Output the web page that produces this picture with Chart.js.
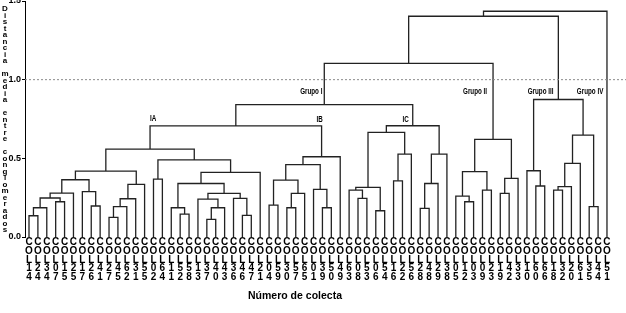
<!DOCTYPE html>
<html>
<head>
<meta charset="utf-8">
<script src="https://cdn.jsdelivr.net/npm/chart.js@4.4.1/dist/chart.umd.min.js"></script>
<style>
  html, body { margin: 0; padding: 0; background: #fff; }
  #wrap { width: 626px; height: 313px; position: relative; }
</style>
</head>
<body>
<div id="wrap"><canvas id="c" width="626" height="313"></canvas></div>
<script>
// ---------- DATA ----------
const leaves = ['COL14','COL24','COL34','COL07','COL15','COL25','COL17','COL26','COL41','COL27',
  'COL45','COL62','COL31','COL55','COL02','COL64','COL11','COL52','COL58','COL13',
  'COL37','COL40','COL43','COL36','COL46','COL47','COL21','COL04','COL59','COL30',
  'COL57','COL65','COL01','COL39','COL50','COL49','COL63','COL08','COL53','COL06',
  'COL54','COL16','COL22','COL56','COL28','COL48','COL29','COL38','COL05','COL12',
  'COL03','COL09','COL23','COL19','COL42','COL33','COL10','COL60','COL66','COL18',
  'COL32','COL20','COL61','COL35','COL44','COL51'];

// linkage: node id of merge k is leaves.length + k
const linkLeft  = [0,66,3,67,69,7,6,70,9,74,75,76,73,14,17,16,20,82,19,24,23,84,81,88,79,78,
  27,29,93,92,33,32,95,98,91,37,36,39,102,41,105,104,44,108,109,107,100,49,48,51,114,53,117,116,112,
  57,56,59,123,124,63,125,122,120,129];
const linkRight = [1,2,4,68,5,8,71,72,10,11,12,13,77,15,18,80,21,22,83,25,85,86,87,26,89,90,
  28,30,31,94,34,96,97,35,99,38,101,40,103,42,43,106,45,46,47,110,111,50,113,52,115,54,55,118,119,
  58,121,60,61,62,64,126,127,128,65];
const linkHeight = [0.135,0.186,0.224,0.248,0.279,0.197,0.288,0.364,0.125,0.193,0.243,0.334,0.419,
  0.368,0.146,0.186,0.112,0.186,0.241,0.138,0.246,0.277,0.340,0.411,0.490,0.559,
  0.203,0.186,0.277,0.362,0.186,0.303,0.460,0.510,0.706,
  0.246,0.298,0.167,0.315,0.357,0.527,0.665,0.182,0.340,0.527,0.707,0.842,
  0.224,0.260,0.298,0.415,0.277,0.373,0.620,1.103,
  0.324,0.421,0.298,0.320,0.468,0.193,0.648,0.874,1.403,1.435];

const yTicks = [0.0, 0.5, 1.0, 1.5];
const cutHeight = 1.0;
const groupNames = ['Grupo I','Grupo II','Grupo III','Grupo IV','IA','IB','IC'];
const groupNodes = [112, 119, 122, 127, 91, 99, 111];
const yTitle = 'Distancia media entre conglomerados';
const xTitle = 'Número de colecta';

// ---------- STYLE ----------
const xMin = -0.45, xMax = 67.14;
const lineColor = '#222';
const narrow = "'Liberation Sans Narrow', 'Liberation Sans', Arial, sans-serif";
const groupLabelStyle = [
  {dx: -13, dy: 91}, {dx: -18, dy: 91}, {dx: 7, dy: 91}, {dx: 7, dy: 91},
  {dx: 3, dy: 118}, {dx: -2, dy: 119}, {dx: -7, dy: 119}
];

// ---------- BUILD TREE ----------
const nodeX = leaves.map((_, i) => i);
const nodeH = leaves.map(() => 0);
linkLeft.forEach((l, k) => {
  const r = linkRight[k];
  nodeX.push((nodeX[l] + nodeX[r]) / 2);
  nodeH.push(linkHeight[k]);
});

const datasets = linkLeft.map((l, k) => {
  const r = linkRight[k], h = linkHeight[k];
  return {
    data: [
      {x: nodeX[l], y: nodeH[l]}, {x: nodeX[l], y: h},
      {x: nodeX[r], y: h}, {x: nodeX[r], y: nodeH[r]}
    ],
    showLine: true, borderColor: lineColor, borderWidth: 1.3,
    pointRadius: 0, tension: 0, fill: false
  };
});
datasets.unshift({
  data: [{x: xMin, y: cutHeight}, {x: xMax, y: cutHeight}],
  showLine: true, borderColor: '#8a8a8a', borderWidth: 1, borderDash: [2, 2],
  pointRadius: 0, fill: false
});

const textPlugin = {
  id: 'texts',
  afterDraw(chart) {
    const ctx = chart.ctx;
    const xs = chart.scales.x;
    ctx.save();
    ctx.fillStyle = '#000';
    // y title, stacked letters
    ctx.font = "bold 8px 'Liberation Sans', Arial, sans-serif";
    ctx.textAlign = 'center';
    ctx.textBaseline = 'middle';
    yTitle.split('').forEach((ch, i) => { if (ch !== ' ') ctx.fillText(ch, 5, 9 + i * 6.5); });
    // x title
    ctx.font = "bold 10.5px 'Liberation Sans', Arial, sans-serif";
    ctx.fillText(xTitle, 295, 296);
    // group labels
    groupNames.forEach((name, i) => {
      const px = xs.getPixelForValue(nodeX[groupNodes[i]]) + groupLabelStyle[i].dx;
      const py = groupLabelStyle[i].dy;
      ctx.save();
      ctx.translate(px, py);
      ctx.scale(0.66, 1);
      ctx.font = "bold 9.5px 'Liberation Sans', Arial, sans-serif";
      ctx.textAlign = 'center';
      ctx.textBaseline = 'middle';
      ctx.fillText(name, 0, 0);
      ctx.restore();
    });
    ctx.restore();
  }
};

new Chart(document.getElementById('c'), {
  type: 'scatter',
  data: { datasets },
  plugins: [textPlugin],
  options: {
    responsive: false,
    animation: false,
    events: [],
    layout: { padding: { top: 1, left: 0, right: 0, bottom: 0 } },
    plugins: { legend: { display: false }, tooltip: { enabled: false } },
    scales: {
      x: {
        type: 'linear', min: xMin, max: xMax,
        afterBuildTicks: (s) => { s.ticks = leaves.map((_, i) => ({ value: i })); },
        afterFit: (s) => { s.height = 76; s.paddingLeft = 0; s.paddingRight = 0; },
        grid: { display: false, drawTicks: false },
        border: { display: false },
        ticks: {
          autoSkip: false, maxRotation: 0, minRotation: 0, padding: 1,
          color: '#000',
          font: { family: narrow, size: 10, weight: 'bold', lineHeight: 0.87 },
          callback: (v) => (Number.isInteger(v) && leaves[v]) ? leaves[v].split('') : ''
        }
      },
      y: {
        min: 0, max: 1.5,
        afterBuildTicks: (s) => { s.ticks = yTicks.map(v => ({ value: v })); },
        afterFit: (s) => { s.width = 25; s.paddingTop = 0; s.paddingBottom = 0; },
        grid: { display: true, drawOnChartArea: false, drawTicks: true, tickLength: 3, color: '#000' },
        border: { display: true, color: '#000', width: 1 },
        ticks: {
          padding: 1, color: '#000',
          font: { family: narrow, size: 9, weight: 'bold' },
          callback: (v) => Number(v).toFixed(1)
        }
      }
    }
  }
});
</script>
</body>
</html>
